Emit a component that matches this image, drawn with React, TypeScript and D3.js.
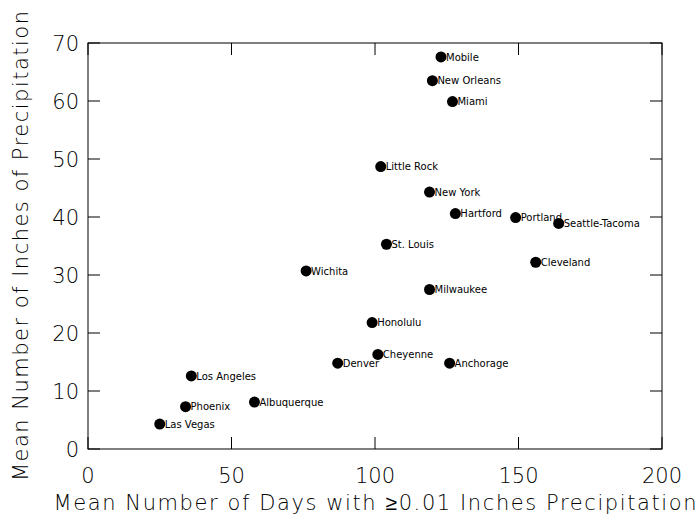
import React from 'react';
import * as d3 from 'd3';

// City precipitation data
const cities = [
  'Mobile', 'New Orleans', 'Miami', 'Little Rock', 'New York', 'Hartford', 'Portland',
  'Seattle-Tacoma', 'St. Louis', 'Cleveland', 'Wichita', 'Milwaukee', 'Honolulu',
  'Cheyenne', 'Denver', 'Anchorage', 'Los Angeles', 'Albuquerque', 'Phoenix', 'Las Vegas',
];
const days = [123, 120, 127, 102, 119, 128, 149, 164, 104, 156, 76, 119, 99, 101, 87, 126, 36, 58, 34, 25];
const inches = [67.6, 63.5, 59.9, 48.7, 44.3, 40.6, 39.9, 38.9, 35.3, 32.2, 30.7, 27.5, 21.8, 16.3, 14.8, 14.8, 12.6, 8.1, 7.3, 4.3];
const xTicks = [0, 50, 100, 150, 200];
const yTicks = [0, 10, 20, 30, 40, 50, 60, 70];

const W = 699;
const H = 515;
const left = 88, right = 662, top = 43, bottom = 449;
const tickLen = 12;
const font = '"DejaVu Sans", sans-serif';

export default function App() {
  const x = d3.scaleLinear().domain([0, 200]).range([left, right]);
  const y = d3.scaleLinear().domain([0, 70]).range([bottom, top]);

  const pts = cities.map((c, i) => ({ name: c, d: days[i], v: inches[i] }));

  return (
    <svg width={W} height={H} style={{ position: 'absolute', left: 0, top: 0, background: '#fff' }}>
      <rect x={left} y={top} width={right - left} height={bottom - top} fill="none" stroke="#000" strokeWidth={1} />

      {/* x ticks, bottom and top */}
      {xTicks.map(t => (
        <g key={'x' + t}>
          <line x1={x(t)} x2={x(t)} y1={bottom} y2={bottom - tickLen} stroke="#000" />
          <line x1={x(t)} x2={x(t)} y1={top} y2={top + tickLen} stroke="#000" />
          <text x={x(t)} y={483} textAnchor="middle" fontFamily={font} fontWeight={200} fontSize={21}>{t}</text>
        </g>
      ))}

      {/* y ticks, left and right */}
      {yTicks.map(t => (
        <g key={'y' + t}>
          <line x1={left} x2={left + tickLen} y1={y(t)} y2={y(t)} stroke="#000" />
          <line x1={right} x2={right - tickLen} y1={y(t)} y2={y(t)} stroke="#000" />
          <text x={79} y={y(t)} dy="0.36em" textAnchor="end" fontFamily={font} fontWeight={200} fontSize={21}>{t}</text>
        </g>
      ))}

      {pts.map(p => (
        <g key={p.name}>
          <circle cx={x(p.d)} cy={y(p.v)} r={5.5} fill="#000" />
          <text x={x(p.d) + 5} y={y(p.v)} dy="0.36em" fontFamily={font} fontSize={10}>{p.name}</text>
        </g>
      ))}

      <text x={375} y={510} textAnchor="middle" fontFamily={font} fontWeight={200} fontSize={21}
        textLength={643} lengthAdjust="spacing">
        Mean Number of Days with ≥0.01 Inches Precipitation
      </text>
      <text transform={`translate(28,${(top + bottom) / 2}) rotate(-90)`} textAnchor="middle"
        fontFamily={font} fontWeight={200} fontSize={21} textLength={470} lengthAdjust="spacing">
        Mean Number of Inches of Precipitation
      </text>
    </svg>
  );
}
